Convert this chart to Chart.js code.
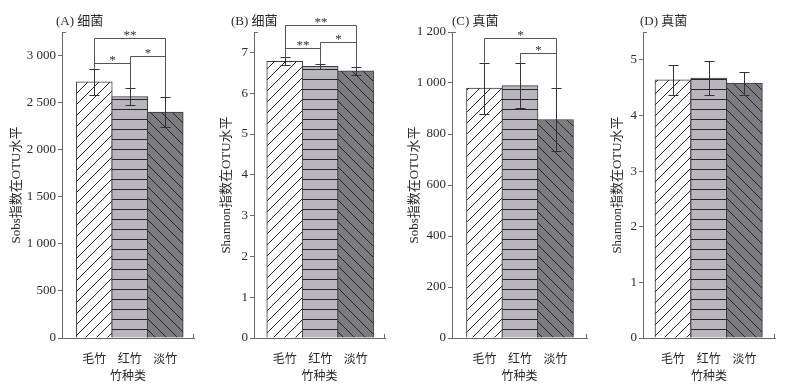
<!DOCTYPE html>
<html><head><meta charset="utf-8">
<script src="https://cdn.jsdelivr.net/npm/chart.js@4/dist/chart.umd.min.js"></script>
<style>
html,body{margin:0;padding:0;background:#fff;}
#wrap{position:relative;width:786px;height:385px;overflow:hidden;background:#fff;}
#wrap div{position:absolute;top:0;height:385px;}
</style></head><body>
<div id="wrap">
<div id="pA"><canvas id="cA"></canvas></div>
<div id="pB"><canvas id="cB"></canvas></div>
<div id="pC"><canvas id="cC"></canvas></div>
<div id="pD"><canvas id="cD"></canvas></div>
</div>
<script>
// ---- data ----
const categories = ['毛竹', '红竹', '淡竹'];
const xTitle = '竹种类';
const panelTitles = ['(A) 细菌', '(B) 细菌', '(C) 真菌', '(D) 真菌'];
const yTitles = ['Sobs指数在OTU水平', 'Shannon指数在OTU水平', 'Sobs指数在OTU水平', 'Shannon指数在OTU水平'];

const bactSobs = [2720, 2565, 2400];
const bactSobsErr = [140, 90, 160];
const bactShannon = [6.78, 6.66, 6.55];
const bactShannonErr = [0.10, 0.06, 0.10];
const fungSobs = [980, 990, 857];
const fungSobsErr = [100, 88, 122];
const fungShannon = [4.64, 4.67, 4.58];
const fungShannonErr = [0.27, 0.30, 0.21];

const yTicksA = [0, 500, 1000, 1500, 2000, 2500, 3000];
const yTicksB = [0, 1, 2, 3, 4, 5, 6, 7];
const yTicksC = [0, 200, 400, 600, 800, 1000, 1200];
const yTicksD = [0, 1, 2, 3, 4, 5];

// significance brackets: [fromIndex, toIndex, level (data units), label]
const sigA = [[0, 2, 3190, '**'], [0, 1, 2923, '*'], [1, 2, 2990, '*']];
const sigB = [[0, 2, 7.67, '**'], [0, 1, 7.10, '**'], [1, 2, 7.25, '*']];
const sigC = [[0, 2, 1176, '*'], [1, 2, 1119, '*']];
const sigD = [];

// ---- styling helpers ----
const SERIF = '"Liberation Serif", "Times New Roman", "Noto Sans CJK SC", serif';
const CJK = '"Liberation Serif", "Noto Sans CJK SC", serif';
const AXIS = '#6a6a6a';
const INK = '#2a2a2a';

function makePattern(bg, kind) {
  const s = kind === 'h' ? 10 : 11;
  const c = document.createElement('canvas');
  c.width = s; c.height = s;
  const g = c.getContext('2d');
  g.fillStyle = bg; g.fillRect(0, 0, s, s);
  g.strokeStyle = '#262626'; g.lineWidth = 1;
  g.beginPath();
  if (kind === 'h') {
    g.moveTo(0, s - 0.5); g.lineTo(s, s - 0.5);
  } else if (kind === '/') {
    g.moveTo(-1, s + 1); g.lineTo(s + 1, -1);
    g.moveTo(-1 - s, s + 1); g.lineTo(1, -1);
    g.moveTo(s - 1, 2 * s + 1); g.lineTo(2 * s + 1, s - 1);
  } else {
    g.moveTo(-1, -1); g.lineTo(s + 1, s + 1);
    g.moveTo(-1 - s, -1); g.lineTo(1, s + 1);
    g.moveTo(s - 1, -1); g.lineTo(2 * s + 1, s + 1);
  }
  g.stroke();
  return g.createPattern(c, 'repeat');
}
const fills = [makePattern('#ffffff', '/'), makePattern('#bab6be', 'h'), makePattern('#7c7b7f', '\\')];

function fmt(v) {
  return String(v).replace(/\B(?=(\d{3})+(?!\d))/g, ' ');
}

const panelPlugin = {
  id: 'panelExtras',
  afterDatasetsDraw(chart, args, opts) {
    const ctx = chart.ctx;
    const meta = chart.getDatasetMeta(0);
    const ys = chart.scales.y;
    const ca = chart.chartArea;
    const vals = chart.data.datasets[0].data;
    const errs = opts.errors;
    ctx.save();
    // error bars
    ctx.strokeStyle = '#333'; ctx.lineWidth = 1;
    meta.data.forEach((bar, i) => {
      const x = Math.round(bar.x) + 0.5;
      const v = vals[i].y, e = errs[i];
      const yt = Math.round(ys.getPixelForValue(v + e)) + 0.5;
      const yb = Math.round(ys.getPixelForValue(v - e)) + 0.5;
      ctx.beginPath();
      ctx.moveTo(x, yt); ctx.lineTo(x, yb);
      ctx.moveTo(x - 5, yt); ctx.lineTo(x + 5, yt);
      ctx.moveTo(x - 5, yb); ctx.lineTo(x + 5, yb);
      ctx.stroke();
    });
    // brackets
    ctx.strokeStyle = '#555';
    ctx.fillStyle = '#333';
    ctx.font = '13px ' + SERIF;
    ctx.textAlign = 'center'; ctx.textBaseline = 'middle';
    (opts.brackets || []).forEach(b => {
      const [i, j, lvl, lab] = b;
      const x1 = Math.round(meta.data[i].x) + 0.5;
      const x2 = Math.round(meta.data[j].x) + 0.5;
      const yl = Math.round(ys.getPixelForValue(lvl)) + 0.5;
      const y1 = ys.getPixelForValue(vals[i].y + errs[i]);
      const y2 = ys.getPixelForValue(vals[j].y + errs[j]);
      ctx.beginPath();
      ctx.moveTo(x1, y1); ctx.lineTo(x1, yl); ctx.lineTo(x2, yl); ctx.lineTo(x2, y2);
      ctx.stroke();
      ctx.fillText(lab, (x1 + x2) / 2, yl - 3);
    });
    // small end ticks (top of y axis, right end of x axis)
    ctx.strokeStyle = AXIS;
    ctx.beginPath();
    ctx.moveTo(ca.left, Math.round(ca.top) + 0.5); ctx.lineTo(ca.left + 4, Math.round(ca.top) + 0.5);
    ctx.moveTo(Math.round(ca.right) - 0.5, ca.bottom); ctx.lineTo(Math.round(ca.right) - 0.5, ca.bottom - 4);
    ctx.stroke();
    // panel title
    ctx.fillStyle = INK;
    ctx.font = '13px ' + CJK;
    ctx.textAlign = 'left'; ctx.textBaseline = 'middle';
    ctx.fillText(opts.title, ca.left + opts.titleDx, 22);
    ctx.restore();
  }
};

function buildChart(id, box, values, errors, yTicks, ymax, brackets, idx) {
  const holder = document.getElementById('p' + id);
  holder.style.left = box.L + 'px';
  holder.style.width = box.W + 'px';
  const cv = document.getElementById('c' + id);
  return new Chart(cv, {
    type: 'bar',
    data: {
      datasets: [{
        data: values.map((v, i) => ({x: i, y: v})),
        backgroundColor: fills,
        borderColor: '#3a3a3a',
        borderWidth: 1,
        barThickness: box.barW
      }]
    },
    options: {
      responsive: true,
      maintainAspectRatio: false,
      animation: false,
      events: [],
      layout: {padding: {top: 32, right: 6, bottom: 0, left: 0}},
      plugins: {
        legend: {display: false},
        tooltip: {enabled: false},
        panelExtras: {errors: errors, brackets: brackets, title: panelTitles[idx], titleDx: box.titleDx}
      },
      scales: {
        x: {
          type: 'linear',
          offset: false,
          min: box.xmin, max: box.xmax,
          afterBuildTicks: s => { s.ticks = categories.map((c, i) => ({value: i})); },
          afterFit: s => { s.height = 47; },
          grid: {display: false, offset: false},
          border: {display: true, color: AXIS, width: 1},
          ticks: {
            autoSkip: false, maxRotation: 0, padding: 7,
            color: INK, font: {family: CJK, size: 12},
            callback: v => categories[v]
          },
          title: {display: true, text: xTitle, color: INK, font: {family: CJK, size: 12}, padding: {top: 0, bottom: 1}}
        },
        y: {
          min: 0, max: ymax,
          afterBuildTicks: s => { s.ticks = yTicks.map(v => ({value: v})); },
          afterFit: s => { s.width = box.axisW; },
          grid: {display: true, drawOnChartArea: false, drawTicks: true, tickLength: 4, color: AXIS},
          border: {display: true, color: AXIS, width: 1},
          ticks: {padding: 2, color: INK, font: {family: SERIF, size: 13}, callback: v => fmt(v)},
          title: {display: true, text: yTitles[idx], color: INK, font: {family: CJK, size: 13}, padding: {top: 4, bottom: 4}}
        }
      }
    },
    plugins: [panelPlugin]
  });
}

buildChart('A', {L: 5, W: 195, axisW: 57, xmin: -0.909, xmax: 2.811, barW: 36, titleDx: -6}, bactSobs, bactSobsErr, yTicksA, 3250, sigA, 0);
buildChart('B', {L: 215, W: 176, axisW: 39, xmin: -0.868, xmax: 2.829, barW: 36, titleDx: -23}, bactShannon, bactShannonErr, yTicksB, 7.5, sigB, 1);
buildChart('C', {L: 403, W: 190, axisW: 49, xmin: -0.915, xmax: 2.887, barW: 36, titleDx: 0}, fungSobs, fungSobsErr, yTicksC, 1200, sigC, 2);
buildChart('D', {L: 606, W: 175, axisW: 37, xmin: -0.840, xmax: 2.857, barW: 36, titleDx: -3}, fungShannon, fungShannonErr, yTicksD, 5.5, sigD, 3);
</script>
</body></html>
